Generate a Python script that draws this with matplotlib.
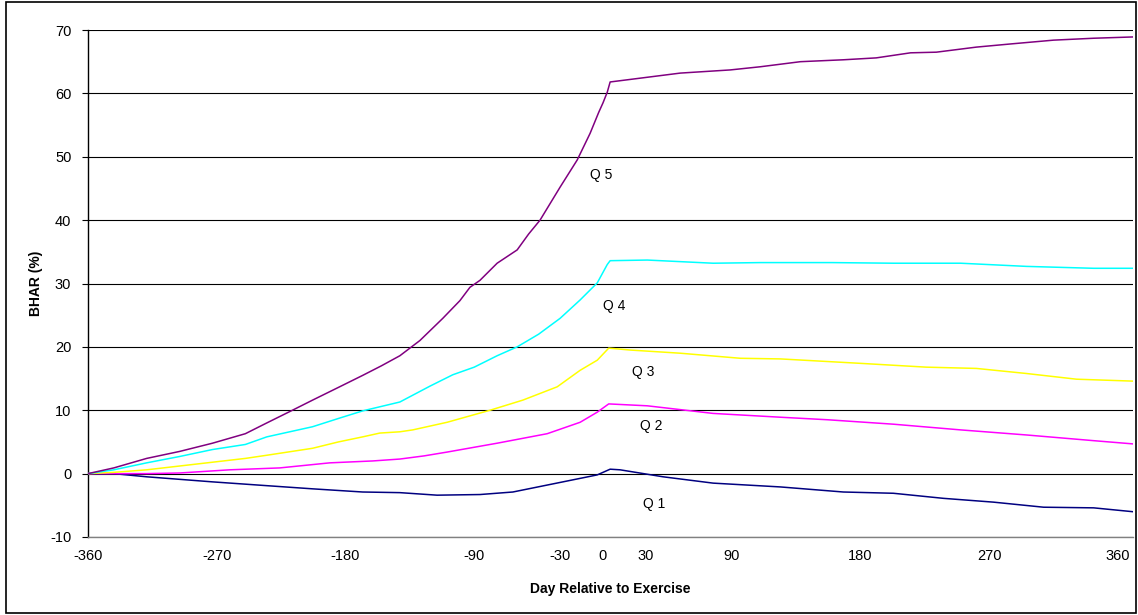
import matplotlib.pyplot as plt
from matplotlib.patches import Rectangle

plt.rcParams['font.family'] = ['Liberation Sans', 'DejaVu Sans']
plt.rcParams['axes.unicode_minus'] = False

# BHAR (%) around the exercise day
q5_days = [-360, -342, -319, -296, -273, -250, -235, -218, -203, -185, -168, -155, -142, -128,
           -112, -100, -93, -86, -74, -60, -52, -44, -30, -18, -9, -3, 0, 3, 5, 19, 54, 89,
           110, 138, 168, 191, 215, 233, 261, 285, 315, 343, 370]
q5_bhar = [0, 0.9, 2.4, 3.5, 4.8, 6.3, 8.0, 9.9, 11.6, 13.6, 15.5, 17.0, 18.6, 21.0,
           24.5, 27.3, 29.4, 30.5, 33.2, 35.3, 37.8, 40.0, 45.2, 49.5, 53.7, 57.0, 58.5, 60.2, 61.8, 62.2, 63.2, 63.7,
           64.2, 65.0, 65.3, 65.6, 66.4, 66.5, 67.3, 67.8, 68.4, 68.7, 68.9]

q4_days = [-360, -342, -319, -296, -273, -250, -235, -203, -185, -168, -142, -121, -105, -90,
           -74, -60, -45, -30, -16, -4, 3, 5, 31, 77, 110, 160, 203, 250, 296, 343, 370]
q4_bhar = [0, 0.6, 1.7, 2.7, 3.8, 4.6, 5.8, 7.4, 8.7, 9.9, 11.3, 13.8, 15.6, 16.8,
           18.6, 20.0, 22.0, 24.5, 27.4, 30.1, 33.0, 33.6, 33.7, 33.2, 33.3, 33.3, 33.2, 33.2, 32.7, 32.4, 32.4]

q3_days = [-360, -342, -319, -296, -273, -250, -235, -203, -185, -168, -156, -142, -133, -109,
           -79, -56, -32, -16, -4, 4, 19, 54, 96, 124, 180, 226, 261, 296, 331, 370]
q3_bhar = [0, 0.2, 0.6, 1.2, 1.8, 2.4, 2.9, 4.0, 5.0, 5.8, 6.4, 6.6, 6.9, 8.1,
           10.0, 11.6, 13.7, 16.3, 17.9, 19.8, 19.5, 19.0, 18.2, 18.1, 17.4, 16.8, 16.6, 15.8, 14.9, 14.6]

q2_days = [-360, -319, -296, -261, -226, -191, -161, -142, -125, -109, -74, -39, -16, -4, 4,
           31, 77, 124, 157, 203, 250, 296, 343, 370]
q2_bhar = [0, 0, 0.1, 0.6, 0.9, 1.7, 2.0, 2.3, 2.8, 3.4, 4.8, 6.3, 8.1, 9.7, 11.0,
           10.7, 9.5, 8.9, 8.5, 7.8, 6.9, 6.1, 5.2, 4.7]

q1_days = [-360, -342, -319, -273, -235, -203, -168, -142, -116, -86, -63, -28, -4, 5, 12,
           42, 77, 124, 168, 203, 238, 273, 308, 343, 370]
q1_bhar = [0, 0, -0.5, -1.3, -1.9, -2.4, -2.9, -3.0, -3.4, -3.3, -2.9, -1.3, -0.2, 0.7, 0.6,
           -0.5, -1.5, -2.1, -2.9, -3.1, -3.9, -4.5, -5.3, -5.4, -6.0]

x_ticks = [-360, -270, -180, -90, -30, 0, 30, 90, 180, 270, 360]
y_ticks = list(range(-10, 71, 10))

fig = plt.figure(figsize=(11.38, 6.15), dpi=100)
ax = fig.add_axes([88 / 1138, 1 - 537 / 615, 1045 / 1138, 507 / 615])

for y in y_ticks:
    ax.axhline(y, color='black', lw=0.8, zorder=1)

ax.plot(q1_days, q1_bhar, color='#000080', lw=1.1, zorder=3)
ax.plot(q2_days, q2_bhar, color='#FF00FF', lw=1.1, zorder=3)
ax.plot(q3_days, q3_bhar, color='#FFFF00', lw=1.1, zorder=3)
ax.plot(q4_days, q4_bhar, color='#00FFFF', lw=1.1, zorder=3)
ax.plot(q5_days, q5_bhar, color='#800080', lw=1.1, zorder=3)

# curve labels
ax.text(-1.5, 47.1, 'Q 5', fontsize=10, ha='center', va='center')
ax.text(7.5, 26.5, 'Q 4', fontsize=10, ha='center', va='center')
ax.text(28, 16.0, 'Q 3', fontsize=10, ha='center', va='center')
ax.text(33.5, 7.5, 'Q 2', fontsize=10, ha='center', va='center')
ax.text(36, -4.8, 'Q 1', fontsize=10, ha='center', va='center')

ax.set_xlim(-360, 370.5)
ax.set_ylim(-10, 70)
ax.set_xticks(x_ticks)
ax.set_yticks(y_ticks)
ax.tick_params(axis='y', direction='out', length=4, width=0.8, labelsize=10.5, pad=8)
ax.tick_params(axis='x', length=0, labelsize=10.5, pad=9)

for side in ['top', 'right']:
    ax.spines[side].set_visible(False)
ax.spines['left'].set_linewidth(1.0)
ax.spines['bottom'].set_color('#808080')
ax.spines['bottom'].set_linewidth(1.0)

ax.set_xlabel('Day Relative to Exercise', fontsize=10, fontweight='bold', labelpad=13)
ax.set_ylabel('BHAR (%)', fontsize=10, fontweight='bold', labelpad=5)

# outer frame around the whole chart
fig.patches.append(Rectangle((6 / 1138, 2 / 615), 1130 / 1138, 611 / 615,
                             transform=fig.transFigure, fill=False,
                             edgecolor='black', lw=1.2))

fig.savefig('out.png', dpi=100)
